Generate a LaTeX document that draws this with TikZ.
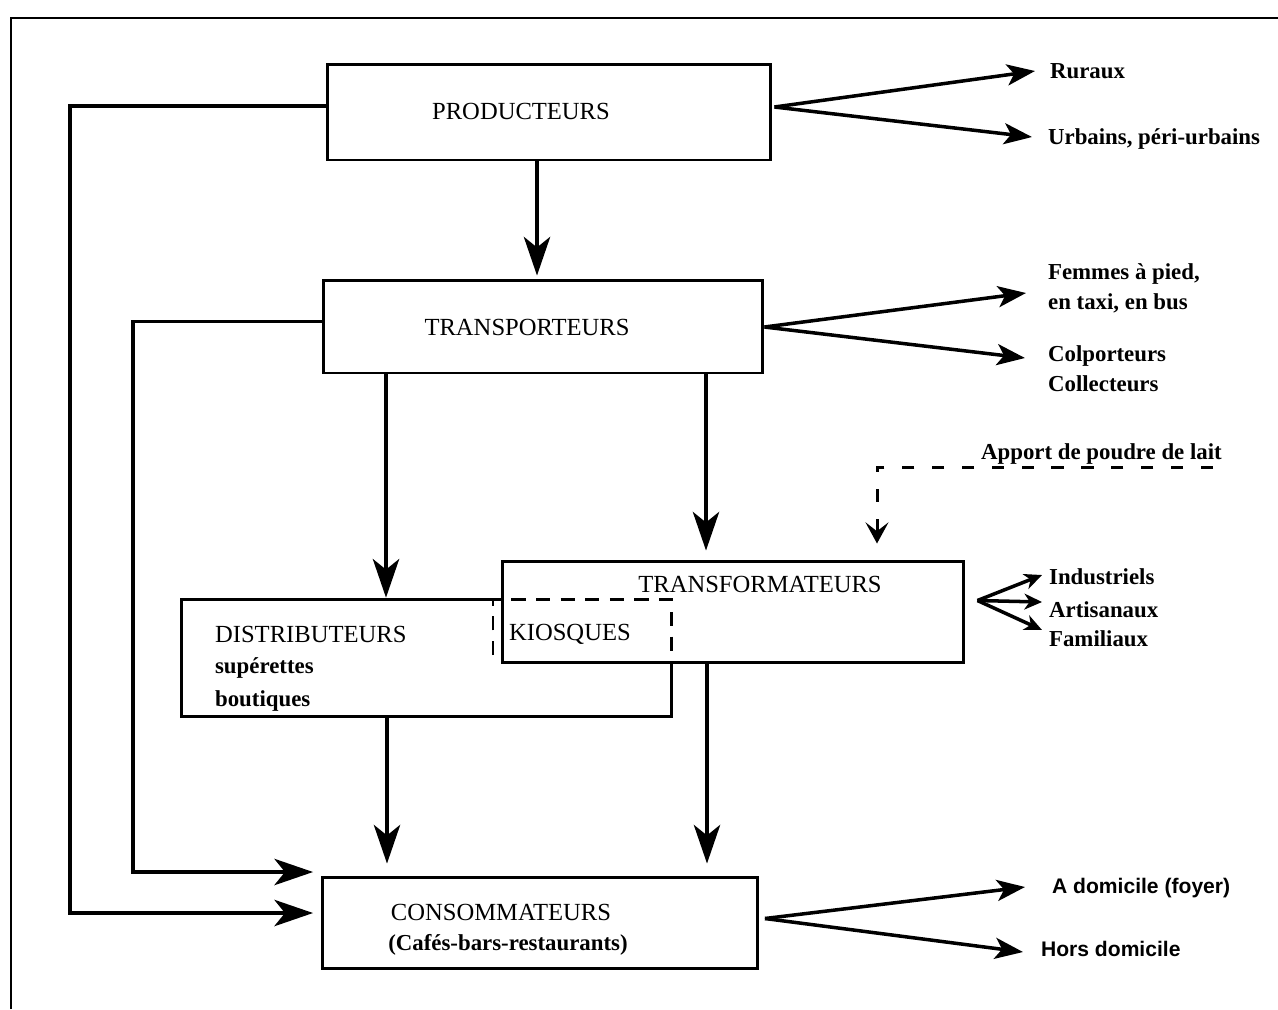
\documentclass[tikz,border=0pt]{standalone}
\usepackage{fontspec}
\setmainfont{Liberation Serif}
\newfontfamily\arialfont{Liberation Sans}
\usetikzlibrary{arrows.meta, calc}
\tikzset{
  box/.style = {draw, line width=1.7pt, inner sep=0pt},
  head/.style = {font=\fontsize{14}{16}\selectfont, inner sep=1pt},
  item/.style = {font=\bfseries\fontsize{13}{17}\selectfont, align=left, anchor=west, inner sep=1pt},
  sansitem/.style = {item, font=\arialfont\bfseries\fontsize{12}{14}\selectfont},
  flow/.style = {line width=2pt, -{Stealth[length=22pt, width=15pt, inset=6pt]}},
  fan/.style = {line width=2pt, -{Stealth[length=16pt, width=12pt, inset=4pt]}},
  smallfan/.style = {line width=2pt, -{Stealth[length=10pt, width=9pt, inset=3pt]}},
  kiosk/.style = {line width=1.7pt, dash pattern=on 8pt off 6pt},
  supply/.style = {line width=1.7pt, dash pattern=on 7pt off 10pt, -{Stealth[length=12pt, width=13pt, inset=5pt]}}
}

\begin{document}
\begin{tikzpicture}[x=0.02cm, y=-0.02cm]
\useasboundingbox (0,0) rectangle (1278,1009);
\draw[line width=0.8pt] (11,1009) -- (11,18) -- (1278,18);

% boxes
\node[box, minimum width=8.88cm, minimum height=1.92cm] (prod) at (549,112) {};
\node[box, minimum width=8.8cm, minimum height=1.86cm] (trans) at (543,326.5) {};
\node[box, minimum width=9.24cm, minimum height=2.02cm] (transf) at (733,611.5) {};
\node[inner sep=0pt, minimum width=9.78cm, minimum height=2.32cm] (distr) at (426.5,658) {};
\node[box, minimum width=8.7cm, minimum height=1.82cm] (cons) at (540,922.5) {};
\coordinate (kio-sw) at (493,655);

\draw[line width=1.7pt] (distr.north -| transf.west) -- (distr.north west) -- (distr.south west)
  -- (distr.south east) -- (distr.east |- transf.south);
\draw[kiosk] (kio-sw) |- (distr.north east) -- (distr.east |- kio-sw);

% texts
\node[head] at (521,111) {PRODUCTEURS};
\node[head] at (527,327) {TRANSPORTEURS};
\node[head] at (760,584) {TRANSFORMATEURS};
\node[head, anchor=base west] (distr-t) at (213,642) {DISTRIBUTEURS};
\node[item, anchor=base west] (distr-a) at (213,673) {supérettes};
\node[item, anchor=base west] (distr-b) at (213,706) {boutiques};
\node[head, anchor=west] (kio) at (507,634) {KIOSQUES};
\node[head] at (501,912) {CONSOMMATEURS};
\node[head, font=\bfseries\fontsize{13}{15}\selectfont] at (508,945) {(Cafés-bars-restaurants)};

\node[item] (rur) at (1048,71) {Ruraux};
\node[item] (urb) at (1046,139) {Urbains, péri-urbains};
\node[item] (fem) at (1046,288) {Femmes à pied,\\en taxi, en bus};
\node[item] (col) at (1046,369) {Colporteurs\\Collecteurs};
\node[item] (ind) at (1047,577) {Industriels};
\node[item] (art) at (1047,610) {Artisanaux};
\node[item] (fam) at (1047,639) {Familiaux};
\node[sansitem] (dom) at (1050,888) {A domicile (foyer)};
\node[sansitem] (hors) at (1039,949) {Hors domicile};
\node[item] (lait) at (979,454) {Apport de poudre de lait};
\coordinate (lait-end) at (1213,467);

% flows
\draw[flow] ($(prod.south)+(-12,0)$) -- ($(trans.north)+(-6,-3)$);
\draw[flow] ($(trans.south)+(-157,0)$) -- ($(distr.north)+(-40.5,-2)$);
\draw[flow] ($(trans.south)+(163,0)$) -- ($(transf.north)+(-27,-9)$);
\draw[flow] ($(distr.south)+(-39.5,0)$) -- ($(cons.north)+(-153,-12)$);
\draw[flow] ($(transf.south)+(-26,0)$) -- ($(cons.north)+(167,-12)$);
\draw[flow] ($(prod.west)+(0,-6)$) -| (70,913) -- ($(cons.west)+(-8,-9.5)$);
\draw[flow] ($(trans.west)+(0,-5)$) -| (133,872) -- ($(cons.west)+(-8,-50.5)$);
\draw[supply] (lait-end) -| ($(transf.north)+(144,-16)$);

\draw[fan] ($(prod.east)+(2,-5)$) -- ($(rur.west)+(-13,0)$);
\draw[fan] ($(prod.east)+(2,-5)$) -- ($(urb.west)+(-14,-2)$);
\draw[fan] ($(trans.east)+(0,0.5)$) -- ($(fem.west)+(-20,5)$);
\draw[fan] ($(trans.east)+(0,0.5)$) -- ($(col.west)+(-21,-11)$);
\draw[smallfan] ($(transf.east)+(12,-11)$) -- ($(ind.west)+(-5,-2)$);
\draw[smallfan] ($(transf.east)+(12,-11)$) -- ($(art.west)+(-5,-8)$);
\draw[smallfan] ($(transf.east)+(12,-11)$) -- ($(fam.west)+(-5,-9)$);
\draw[fan] ($(cons.east)+(6,-4)$) -- ($(dom.west)+(-25,-1)$);
\draw[fan] ($(cons.east)+(6,-4)$) -- ($(hors.west)+(-16,3)$);
\end{tikzpicture}
\end{document}
